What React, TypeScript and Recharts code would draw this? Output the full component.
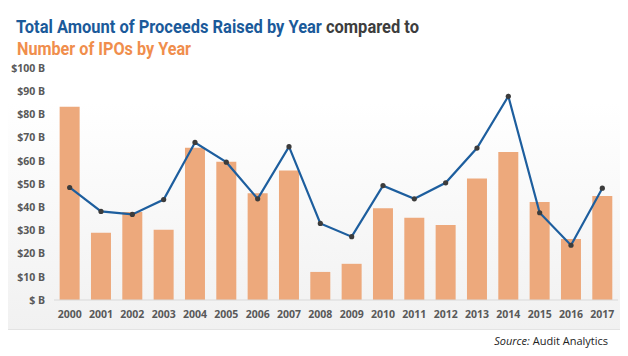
import React, { useLayoutEffect, useRef, useState } from "react";
import { ComposedChart, Bar, Line, XAxis, YAxis } from "recharts";

const years = ["2000","2001","2002","2003","2004","2005","2006","2007","2008","2009","2010","2011","2012","2013","2014","2015","2016","2017"];
const ipoBars = [83.3, 29, 37.9, 30.3, 65.6, 59.6, 46, 55.8, 12.1, 15.6, 39.5, 35.5, 32.3, 52.4, 63.8, 42.2, 26.3, 44.8];
const proceeds = [48.5, 38.2, 36.9, 43.3, 67.9, 59.4, 43.6, 66.1, 33, 27.3, 49.3, 43.6, 50.5, 65.5, 87.8, 37.6, 23.6, 48.2];
const yTicks = [0, 10, 20, 30, 40, 50, 60, 70, 80, 90, 100];

const data = years.map((y, i) => ({ year: y, ipos: ipoBars[i], proceeds: proceeds[i] }));

const Dot = (props: any) => {
  const { cx, cy } = props;
  return <circle cx={cx} cy={cy} r={2.6} fill="#3c3c3c" />;
};

const FitText = ({ x, y, width, children, ...rest }: any) => {
  const ref = useRef<SVGTextElement>(null);
  const [sx, setSx] = useState(0.8);
  useLayoutEffect(() => {
    if (ref.current) {
      const w = ref.current.getComputedTextLength();
      if (w > 0) setSx(width / w);
    }
  }, [width]);
  return (
    <text ref={ref} x={0} y={0} transform={`translate(${x},${y}) scale(${sx},1)`} {...rest}>
      {children}
    </text>
  );
};

export default function App() {
  const tickStyle = { fill: "#595959", fontSize: 10.5, fontWeight: 700, fontFamily: "'Open Sans', 'Liberation Sans', sans-serif" };
  const titleFont = "'Roboto', 'Liberation Sans', sans-serif";
  return (
    <div style={{ position: "relative", width: 628, height: 356, margin: -8, background: "#fff", overflow: "hidden" }}>
      <div
        style={{
          position: "absolute",
          left: 5,
          top: 4,
          width: 616,
          height: 324,
          border: "1.5px solid #e3e3e3",
          background: "linear-gradient(to bottom, #ffffff 0%, #ffffff 30%, #f1f1f1 100%)",
        }}
      />
      <div style={{ position: "absolute", left: 0, top: 0 }}>
        <ComposedChart width={628} height={356} data={data} margin={{ top: 68, right: 10, bottom: 26, left: 4 }} barCategoryGap="18%">
          <XAxis
            dataKey="year"
            tickLine={false}
            axisLine={{ stroke: "#d9d9d9", strokeWidth: 1 }}
            tick={tickStyle}
            tickMargin={5}
            height={30}
            interval={0}
          />
          <YAxis
            domain={[0, 100]}
            ticks={yTicks}
            width={50}
            axisLine={false}
            tickLine={false}
            tick={tickStyle}
            tickMargin={3}
            tickFormatter={(v: number) => (v === 0 ? "$ B" : `$${v} B`)}
          />
          <Bar dataKey="ipos" fill="#EDA97C" isAnimationActive={false} />
          <Line
            dataKey="proceeds"
            stroke="#1d5e9e"
            strokeWidth={2.2}
            dot={<Dot />}
            activeDot={false}
            isAnimationActive={false}
          />
        </ComposedChart>
      </div>
      <svg width={628} height={356} style={{ position: "absolute", left: 0, top: 0, pointerEvents: "none" }}>
        <FitText x={16} y={33} width={403} fontFamily={titleFont} fontWeight={700} fontSize={19}>
          <tspan fill="#1b5a9a">Total Amount of Proceeds Raised by Year</tspan>
          <tspan fill="#3d3d3d"> compared to</tspan>
        </FitText>
        <FitText x={17} y={55} width={174} fontFamily={titleFont} fontWeight={700} fontSize={19} fill="#f08e4c">
          Number of IPOs by Year
        </FitText>
        <text x={608} y={345} textAnchor="end" fontFamily="'Open Sans', 'Liberation Sans', sans-serif" fontSize={11} fill="#222">
          <tspan fontStyle="italic">Source:</tspan> Audit Analytics
        </text>
      </svg>
    </div>
  );
}
